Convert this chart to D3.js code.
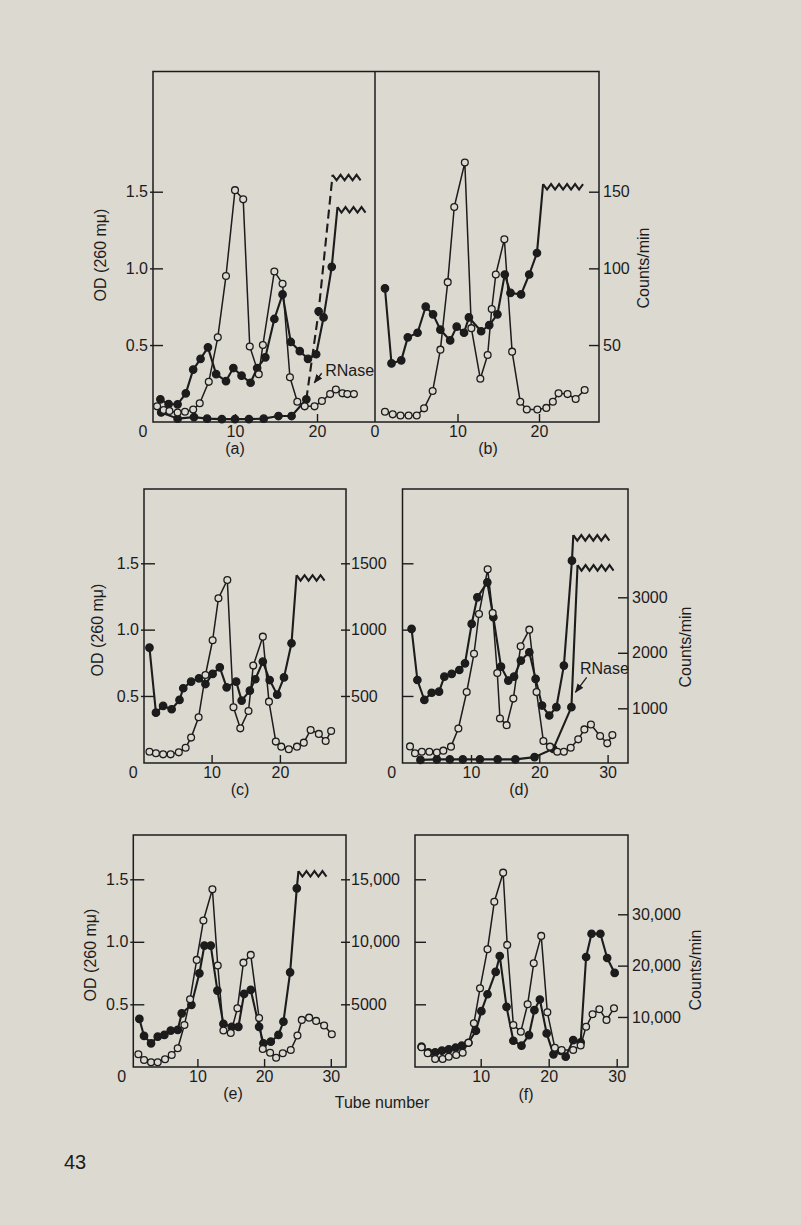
<!DOCTYPE html>
<html><head><meta charset="utf-8">
<script src="https://cdn.jsdelivr.net/npm/d3@7"></script>
<style>
html,body{margin:0;padding:0;background:#dcd9d1;}
svg{display:block;}
text{font-family:"Liberation Sans",Arial,Helvetica,sans-serif;font-size:16px;fill:#1c1c1c;}
</style>
</head><body>
<svg id="chart" width="801" height="1225"></svg>
<script>
// ---------------- DATA (tube number, OD 260 / counts per min) ----------------
// Panel (a)
const aOpenTube = [0.5,1.3,2.0,3.0,3.9,4.9,5.7,6.8,7.9,8.9,10.0,11.0,11.8,12.9,13.4,14.8,15.8,16.7,17.6,18.5,19.7,20.6,21.6,22.3,23.1,23.7,24.5];
const aOpenOD   = [0.10,0.076,0.07,0.06,0.065,0.08,0.12,0.26,0.55,0.95,1.51,1.45,0.49,0.31,0.50,0.98,0.90,0.29,0.13,0.10,0.10,0.135,0.18,0.21,0.185,0.18,0.18];
const aCpmTube  = [0.9,1.9,3.0,4.0,4.9,5.8,6.7,7.7,8.9,9.8,10.8,11.9,12.7,13.7,14.8,15.8,16.8,17.9,18.9,19.9,20.8,21.8];
const aCpm      = [14.6,11.5,11.3,18.5,34,41,48.5,31,26.5,35,30,25.4,35,42,67,83,52,46,41,44,68,101];
const aCpmTop   = [22.5,140,26.0];       // tube at break, value at break, tube where the break mark ends
const aRnaseTube= [1.0,3.0,5.0,6.6,8.4,10.0,11.7,13.5,15.3,16.9,18.7,20.2];
const aRnaseCpm = [6,2,3,2,1.7,1.7,1.7,2,3.7,3.7,14.6,72];
const aRnaseTop = [21.9,161,25.7];
// Panel (b)
const bOpenTube = [1.1,2.05,3.0,4.0,5.0,5.9,6.95,7.9,8.8,9.6,10.9,11.7,12.8,13.7,14.2,14.7,15.75,16.7,17.7,18.5,19.8,20.9,21.7,22.4,23.5,24.5,25.6];
const bOpenOD   = [0.065,0.048,0.04,0.04,0.04,0.087,0.20,0.47,0.91,1.40,1.69,0.61,0.28,0.435,0.735,0.96,1.19,0.457,0.13,0.08,0.08,0.09,0.13,0.185,0.18,0.148,0.207];
const bCpmTube  = [1.1,1.9,3.1,3.9,5.1,6.1,7.0,7.9,9.1,9.9,10.8,11.4,12.9,13.9,14.9,15.8,16.5,17.8,18.8,19.75];
const bCpm      = [87,38,40,55,58,75,70,60,53,62,58,68,59,63,70,96,84,83,96,110];
const bCpmTop   = [20.5,155,25.4];
// Panel (c)
const cOpenTube = [0.9,1.85,2.9,4.0,5.2,6.2,7.0,8.1,9.1,10.15,11.0,12.3,13.2,14.2,15.4,16.1,17.5,18.4,19.4,20.2,21.3,22.5,23.5,24.5,25.7,26.7,27.5];
const cOpenOD   = [0.08,0.068,0.06,0.06,0.075,0.11,0.186,0.34,0.658,0.92,1.236,1.374,0.415,0.256,0.387,0.729,0.947,0.457,0.156,0.118,0.098,0.118,0.148,0.244,0.214,0.16,0.236];
const cCpmTube  = [0.9,1.85,2.9,4.15,5.3,5.85,7.0,8.15,9.1,10.15,11.2,12.2,13.6,14.4,15.6,16.4,17.5,18.5,19.6,20.6,21.7];
const cCpm      = [864,374,425,400,470,558,608,633,590,666,716,565,608,465,540,626,759,620,510,640,897];
const cCpmTop   = [22.44,1410,26.85];
// Panel (d)
const dOpenTube = [1.07,1.8,2.8,3.9,5.0,5.95,7.07,8.15,9.37,10.44,11.17,12.44,13.17,13.85,14.24,15.22,16.2,17.27,18.54,19.6,20.6,21.56,22.63,23.6,24.6,25.7,26.6,27.56,28.9,29.95,30.7];
const dOpenOD   = [0.12,0.068,0.08,0.08,0.073,0.088,0.118,0.255,0.53,0.818,1.118,1.455,1.125,0.673,0.33,0.28,0.48,0.875,1.0,0.53,0.16,0.118,0.08,0.08,0.11,0.173,0.248,0.285,0.198,0.143,0.205];
const dCpmTube  = [1.3,2.15,3.17,4.24,5.32,6.1,7.17,8.29,9.12,10.1,10.93,12.39,13.27,14.39,15.46,16.3,17.3,18.54,19.46,20.4,21.46,22.5,23.6,24.78];
const dCpm      = [2430,1510,1150,1280,1300,1570,1620,1690,1810,2520,3000,3270,2640,1750,1500,1570,1860,2010,1530,1050,870,1020,1770,3660];
const dCpmTop   = [24.98,4120,30.35];
const dRnaseTube= [2.6,5.0,6.9,8.8,11.3,13.9,16.5,19.3,22.05,24.7];
const dRnaseCpm = [70,80,80,80,80,80,80,120,270,1020];
const dRnaseTop = [25.6,3580,31.1];
// Panel (e)
const eOpenTube = [1.15,2.0,3.05,4.05,5.15,6.15,7.05,8.05,8.9,9.9,10.9,12.25,13.05,13.9,15.0,16.0,16.9,18.0,19.25,19.8,20.9,21.8,22.8,24.0,25.0,25.65,26.75,27.8,29.0,30.15];
const eOpenOD   = [0.10,0.055,0.036,0.036,0.06,0.095,0.148,0.335,0.54,0.855,1.17,1.42,0.81,0.29,0.27,0.468,0.833,0.895,0.39,0.143,0.113,0.073,0.108,0.135,0.25,0.375,0.393,0.367,0.33,0.26];
const eCpmTube  = [1.3,2.0,3.05,4.05,5.05,6.0,7.05,7.65,9.1,10.3,11.05,12.0,13.0,13.9,15.15,16.15,17.0,18.0,19.25,19.9,21.0,22.15,22.9,23.9,24.9];
const eCpm      = [3830,2470,1880,2410,2550,2900,2950,4280,4950,7480,9700,9700,6100,3430,3200,3200,5830,6150,3200,1880,2010,2550,3610,7560,14280];
const eCpmTop   = [25.15,15660,29.4];
// Panel (f)
const fOpenTube = [1.3,2.2,3.3,4.4,5.3,6.4,7.35,8.2,9.0,9.9,11.0,12.0,13.3,13.9,14.8,15.9,16.9,17.8,18.9,19.8,20.9,21.9,23.6,24.7,25.5,26.45,27.45,28.5,29.6];
const fOpenOD   = [0.156,0.108,0.063,0.063,0.081,0.095,0.113,0.193,0.348,0.628,0.94,1.32,1.553,0.975,0.335,0.281,0.50,0.828,1.047,0.436,0.153,0.135,0.135,0.17,0.32,0.42,0.46,0.375,0.468];
const fCpmTube  = [1.3,2.3,3.3,4.3,5.3,6.3,7.2,8.2,9.3,10.1,11.0,12.2,12.8,13.8,14.8,16.0,17.1,17.9,18.7,19.7,20.7,21.8,22.5,23.6,24.7,25.5,26.3,27.6,28.6,29.7];
const fCpm      = [4210,3110,3110,3430,3690,4010,4400,4980,7310,11130,14430,18770,21880,11970,5370,4400,6470,11330,13400,6800,2720,3370,2270,5500,5050,21680,26210,26210,21490,18580];

// Tick values and labels
const odTicks = [0.5,1.0,1.5];
const odLabels = ["0.5","1.0","1.5"];
const abCpmTicks = [50,100,150];
const cCpmTicks = [500,1000,1500];
const dCpmTicks = [1000,2000,3000];
const eCpmTicks = [5000,10000,15000];
const eCpmLabels = ["5000","10,000","15,000"];
const fCpmTicks = [10000,20000,30000];
const fCpmLabels = ["10,000","20,000","30,000"];
const tubeTicks2 = [10,20];
const tubeTicks3 = [10,20,30];
const panelNames = ["(a)","(b)","(c)","(d)","(e)","(f)"];

// ---------------- DRAWING ----------------
const BG = "#dcd9d1", INK = "#1c1c1c";
const svg = d3.select("#chart");
svg.append("rect").attr("width",801).attr("height",1225).attr("fill",BG);
const defs = svg.append("defs");
defs.append("marker").attr("id","arr").attr("viewBox","0 0 10 10").attr("refX",9).attr("refY",5)
  .attr("markerWidth",7).attr("markerHeight",7).attr("orient","auto")
  .append("path").attr("d","M0,1 L10,5 L0,9 z").attr("fill",INK);

function makeScales(c) {
  return {
    x: d3.scaleLinear().domain([0,30]).range([c.x0, c.x0 + 30*c.k]),
    yL: d3.scaleLinear().domain([0,1.5]).range(c.yL),
    yR: d3.scaleLinear().domain([0,c.rMax]).range(c.yR)
  };
}

function frame(f) {
  svg.append("rect").attr("x",f.l).attr("y",f.t).attr("width",f.r-f.l).attr("height",f.b-f.t)
    .attr("fill","none").attr("stroke",INK).attr("stroke-width",1.5);
}

function styleAxis(g) {
  g.select(".domain").remove();
  g.attr("font-size",null).attr("font-family",null).attr("color",INK);
  g.selectAll("line").attr("stroke-width",1.4);
}

function xAxis(s, f, ticks, zeroLabel, zeroOffset) {
  const g = svg.append("g").attr("transform",`translate(0,${f.b})`)
    .call(d3.axisBottom(s.x).tickValues(ticks).tickFormat(d3.format("d")).tickSizeInner(-8).tickSizeOuter(0).tickPadding(4));
  styleAxis(g);
  if (zeroLabel) {
    svg.append("text").attr("x", s.x(0) + zeroOffset).attr("y", f.b + 4).attr("dy","0.71em")
      .attr("text-anchor","middle").text("0");
  }
}

function yLeft(s, f, labelled, size) {
  const ax = d3.axisLeft(s.yL).tickValues(odTicks).tickSizeInner(-size).tickSizeOuter(0).tickPadding(5)
    .tickFormat((d,i) => labelled ? odLabels[i] : "");
  const g = svg.append("g").attr("transform",`translate(${f.l},0)`).call(ax);
  styleAxis(g);
  if (labelled) g.selectAll(".tick line").attr("x1", -3);
}

function yRight(s, f, ticks, labels, size, pad, out) {
  const ax = d3.axisRight(s.yR).tickValues(ticks).tickSizeInner(-size).tickSizeOuter(0).tickPadding(pad)
    .tickFormat((d,i) => labels ? labels[i] : d3.format("d")(d));
  const g = svg.append("g").attr("transform",`translate(${f.r},0)`).call(ax);
  styleAxis(g);
  if (out) g.selectAll(".tick line").attr("x2", out).attr("x1", -size);
}

function zigzag(p, xEnd) {
  const pts = [p]; const per = 8, amp = 5.5;
  let px = p[0], down = true;
  while (px + per/2 <= xEnd + 0.5) {
    px += per/2;
    pts.push([px, down ? p[1] + amp : p[1]]);
    down = !down;
  }
  return pts;
}

function series(s, xs, ys, yScale, opt) {
  const pts = xs.map((t,i) => [s.x(t), yScale(ys[i])]);
  const line = d3.line();
  let solid = pts.slice(), dashed = null;
  if (opt.dashFrom != null) { solid = pts.slice(0, opt.dashFrom + 1); dashed = pts.slice(opt.dashFrom); }
  let tp = null;
  if (opt.top) {
    tp = [s.x(opt.top[0]), yScale(opt.top[1])];
    (dashed || solid).push(tp);
  }
  const lw = opt.filled ? 2.1 : 1.5;
  svg.append("path").attr("d", line(solid)).attr("fill","none").attr("stroke",INK)
    .attr("stroke-width",lw).attr("stroke-linejoin","round");
  if (dashed) svg.append("path").attr("d", line(dashed)).attr("fill","none").attr("stroke",INK)
    .attr("stroke-width",lw).attr("stroke-dasharray","9,5");
  if (tp) svg.append("path").attr("d", line(zigzag(tp, s.x(opt.top[2])))).attr("fill","none")
    .attr("stroke",INK).attr("stroke-width",lw).attr("stroke-linejoin","miter");
  svg.append("g").selectAll("circle").data(pts).join("circle")
    .attr("cx", d => d[0]).attr("cy", d => d[1]).attr("r", opt.filled ? 3.7 : 3.4)
    .attr("fill", opt.filled ? INK : BG).attr("stroke", INK).attr("stroke-width", 1.3);
}

function rnase(s, yScale, lab, from, to) {
  svg.append("text").attr("x", s.x(lab[0])).attr("y", yScale(lab[1])).attr("dy","0.35em").text("RNase");
  svg.append("line").attr("x1", s.x(from[0])).attr("y1", yScale(from[1]))
    .attr("x2", s.x(to[0])).attr("y2", yScale(to[1])).attr("stroke",INK).attr("stroke-width",1.3)
    .attr("marker-end","url(#arr)");
}

function panelLabel(x, y, t) {
  svg.append("text").attr("x",x).attr("y",y).attr("dy","0.35em").attr("text-anchor","middle").text(t);
}
function vTitle(x, y, t) {
  svg.append("text").attr("transform",`translate(${x},${y}) rotate(-90)`).attr("dy","0.35em")
    .attr("text-anchor","middle").text(t);
}

// ---- Panels (a) and (b): one shared box ----
const fA = {l:153, r:375, t:71.5, b:422};
const fB = {l:375, r:599, t:71.5, b:422};
const sA = makeScales({x0:153, k:8.2, yL:[421.7,191.7], rMax:150, yR:[421.7,191.7]});
const sB = makeScales({x0:376, k:8.15, yL:[421.7,191.7], rMax:150, yR:[421.7,191.7]});
frame({l:fA.l, r:fB.r, t:fA.t, b:fA.b});
svg.append("line").attr("x1",fA.r).attr("x2",fA.r).attr("y1",fA.t).attr("y2",fA.b).attr("stroke",INK).attr("stroke-width",1.5);
yLeft(sA, fA, true, 10);
yRight(sB, fB, abCpmTicks, null, 10, 4);
xAxis(sA, fA, tubeTicks2, true, -10);
xAxis(sB, fB, tubeTicks2, true, -1);
series(sA, aRnaseTube, aRnaseCpm, sA.yR, {filled:true, dashFrom:10, top:aRnaseTop});
series(sA, aCpmTube, aCpm, sA.yR, {filled:true, top:aCpmTop});
series(sA, aOpenTube, aOpenOD, sA.yL, {filled:false});
rnase(sA, sA.yL, [21.0,0.337], [20.57,0.316], [19.67,0.254]);
series(sB, bCpmTube, bCpm, sB.yR, {filled:true, top:bCpmTop});
series(sB, bOpenTube, bOpenOD, sB.yL, {filled:false});
panelLabel(235, 448, panelNames[0]);
panelLabel(488, 448, panelNames[1]);
vTitle(100, 255, "OD (260 mμ)");
vTitle(643, 268, "Counts/min");

// ---- Panel (c) ----
const fC = {l:144, r:346, t:489, b:763};
const sC = makeScales({x0:143.3, k:6.83, yL:[762.3,563.3], rMax:1500, yR:[762.3,563.3]});
frame(fC);
yLeft(sC, fC, true, 11);
yRight(sC, fC, cCpmTicks, null, 5, 5, 4);
xAxis(sC, fC, tubeTicks2, true, -10);
series(sC, cCpmTube, cCpm, sC.yR, {filled:true, top:cCpmTop});
series(sC, cOpenTube, cOpenOD, sC.yL, {filled:false});
panelLabel(240, 789, panelNames[2]);
vTitle(97, 630, "OD (260 mμ)");

// ---- Panel (d) ----
const fD = {l:402.5, r:628, t:489, b:763};
const sD = makeScales({x0:402.7, k:6.83, yL:[762.3,563.3], rMax:3000, yR:[763.8,597.3]});
frame(fD);
yLeft(sD, fD, false, 11);
yRight(sD, fD, dCpmTicks, null, 10, 4);
xAxis(sD, fD, tubeTicks3, true, -11);
series(sD, dRnaseTube, dRnaseCpm, sD.yR, {filled:true, top:dRnaseTop});
series(sD, dCpmTube, dCpm, sD.yR, {filled:true, top:dCpmTop});
series(sD, dOpenTube, dOpenOD, sD.yL, {filled:false});
rnase(sD, sD.yR, [25.96,1726], [26.94,1559], [25.3,1290]);
panelLabel(519, 789, panelNames[3]);
vTitle(685, 647, "Counts/min");

// ---- Panel (e) ----
const fE = {l:133.3, r:346, t:835, b:1067};
const sE = makeScales({x0:130.7, k:6.67, yL:[1066.8,879.3], rMax:15000, yR:[1066.8,879.3]});
frame(fE);
yLeft(sE, fE, true, 11);
yRight(sE, fE, eCpmTicks, eCpmLabels, 5, 5, 4);
xAxis(sE, fE, tubeTicks3, true, -9);
series(sE, eCpmTube, eCpm, sE.yR, {filled:true, top:eCpmTop});
series(sE, eOpenTube, eOpenOD, sE.yL, {filled:false});
panelLabel(233, 1093, panelNames[4]);
vTitle(90, 955, "OD (260 mμ)");

// ---- Panel (f) ----
const fF = {l:415, r:628, t:835, b:1067};
const sF = makeScales({x0:412.7, k:6.8, yL:[1066.8,879.3], rMax:30000, yR:[1068.3,914.3]});
frame(fF);
yLeft(sF, fF, false, 11);
yRight(sF, fF, fCpmTicks, fCpmLabels, 10, 4);
xAxis(sF, fF, tubeTicks3, false, 0);
series(sF, fCpmTube, fCpm, sF.yR, {filled:true});
series(sF, fOpenTube, fOpenOD, sF.yL, {filled:false});
panelLabel(526, 1094, panelNames[5]);
vTitle(695, 970, "Counts/min");

// Shared x title and page number
svg.append("text").attr("x",382).attr("y",1102).attr("dy","0.35em").attr("text-anchor","middle").text("Tube number");
svg.append("text").attr("x",75).attr("y",1162).attr("dy","0.35em").attr("text-anchor","middle")
  .style("font-size","20px").text("43");
</script>
</body></html>
